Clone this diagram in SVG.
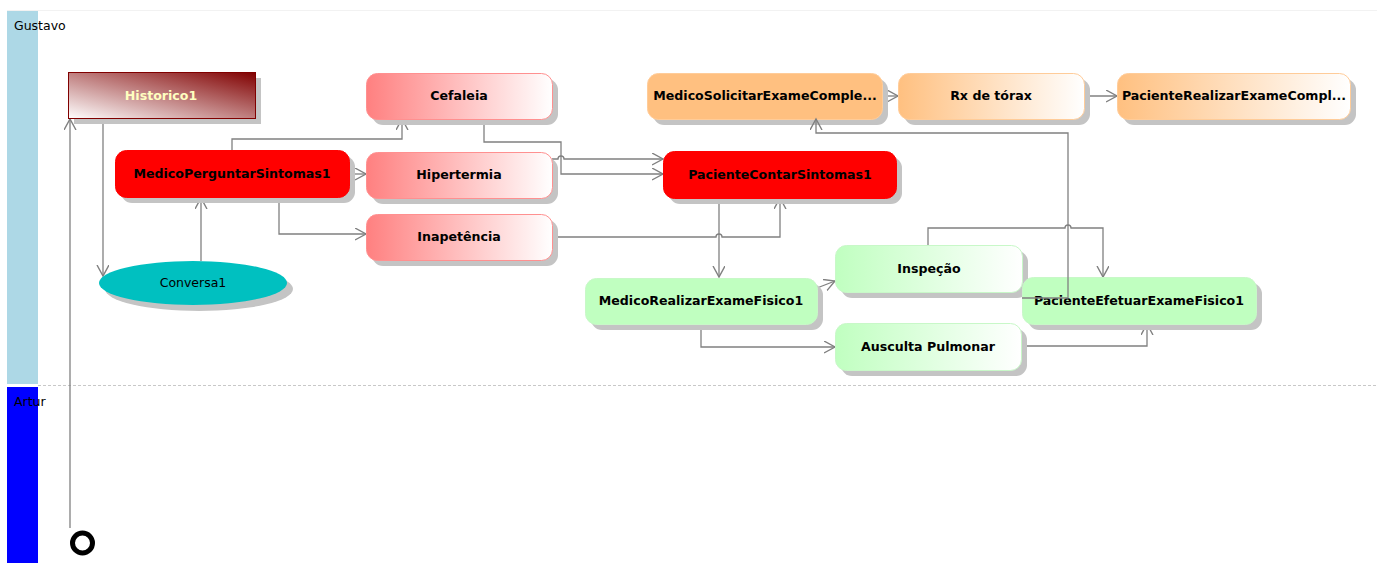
<svg xmlns="http://www.w3.org/2000/svg" width="1377" height="563" viewBox="0 0 1377 563">
<style>
.lbl{font-family:"DejaVu Sans","Liberation Sans",sans-serif;font-size:12.5px;fill:#000}
.t{font-family:"DejaVu Sans","Liberation Sans",sans-serif;font-size:12.6px;font-weight:bold;fill:#000;text-anchor:middle}
.tn{font-family:"DejaVu Sans","Liberation Sans",sans-serif;font-size:12.5px;fill:#000;text-anchor:middle}
.sh{fill:#c4c4c4}
.pink{fill:url(#gPink);stroke:#ff9090;stroke-width:1}
.red{fill:#ff0000;stroke:#ff0000;stroke-width:1}
.or{fill:url(#gOr);stroke:#ffcc99;stroke-width:1}
.ors{fill:#ffc080;stroke:#ffcc99;stroke-width:1}
.gr{fill:url(#gGr);stroke:#c8f8c8;stroke-width:1}
.grs{fill:#c0ffc0;stroke:#c8f8c8;stroke-width:1}
.c{fill:none;stroke:#808080;stroke-width:1.3;marker-end:url(#arr)}
</style>
<defs>
<linearGradient id="gPink" x1="0" y1="0" x2="1" y2="0"><stop offset="0" stop-color="#ff8080"/><stop offset="1" stop-color="#ffffff"/></linearGradient>
<linearGradient id="gOr" x1="0" y1="0" x2="1" y2="0"><stop offset="0" stop-color="#ffc080"/><stop offset="1" stop-color="#ffffff"/></linearGradient>
<linearGradient id="gGr" x1="0" y1="0" x2="1" y2="0"><stop offset="0" stop-color="#c0ffc0"/><stop offset="1" stop-color="#ffffff"/></linearGradient>
<linearGradient id="gHist" x1="0" y1="1" x2="1" y2="0"><stop offset="0" stop-color="#ffffff"/><stop offset="1" stop-color="#800000"/></linearGradient>
<marker id="arr" markerUnits="userSpaceOnUse" markerWidth="14" markerHeight="14" refX="11" refY="6" orient="auto">
<path d="M0,0 L11,6 L0,12" fill="none" stroke="#808080" stroke-width="1.4"/>
</marker>
</defs>
<rect x="0" y="0" width="1377" height="563" fill="#ffffff"/>
<g id="lanes">
<line x1="7" y1="10.5" x2="1377" y2="10.5" stroke="#f2f2f2" stroke-width="1"/>
<rect x="7" y="11" width="31" height="373" fill="#add8e6"/>
<rect x="7" y="387" width="31" height="176" fill="#0000ff"/>
<line x1="38" y1="385.5" x2="1377" y2="385.5" stroke="#c8c8c8" stroke-width="1" stroke-dasharray="3,2"/>
<text class="lbl" x="14" y="30">Gustavo</text>
<text class="lbl" x="14" y="406">Artur</text>
</g>
<g id="connectors">
<path class="c" d="M70,528 L70,119"/>
<path class="c" d="M103,118 L103,276"/>
<path class="c" d="M201,261 L201,198"/>
<path class="c" d="M232,150 L232,139 L402,139 L402,119"/>
<path class="c" d="M349,174 L366,174"/>
<path class="c" d="M279,197 L279,234 L366,234"/>
<path class="c" d="M484,118 L484,142 L561,142 L561,174 L663,174"/>
<path class="c" d="M552,159 L558,159 A3,3 0 0 1 564,159 L663,159"/>
<path class="c" d="M552,237 L716,237 A3,3 0 0 1 722,237 L780,237 L780,198"/>
<path class="c" d="M719,197 L719,277"/>
<path class="c" d="M882,96 L898,96"/>
<path class="c" d="M1084,96 L1117,96"/>
<path class="c" d="M817,288 L835,281"/>
<path class="c" d="M701,323 L701,347 L835,347"/>
<path class="c" d="M928,245 L928,228 L1065,228 A3,3 0 0 1 1071,228 L1103,228 L1103,277"/>
<path class="c" d="M1021,346 L1147,346 L1147,324"/>
</g>
<g id="final">
<circle cx="82.5" cy="543" r="10" fill="#ffffff" stroke="#000000" stroke-width="5"/>
</g>
<g id="Historico1">
<rect class="sh" x="74" y="78" width="187" height="46"/>
<rect x="68.5" y="72.5" width="187" height="46" fill="url(#gHist)" stroke="#800000" stroke-width="1"/>
<text class="t" x="161" y="100" style="fill:#ffffc0">Historico1</text>
</g>
<g id="Conversa1">
<ellipse class="sh" cx="199" cy="289" rx="94" ry="22"/>
<ellipse cx="193" cy="283" rx="94" ry="22" fill="#00c0c0"/>
<text class="tn" x="193" y="287">Conversa1</text>
</g>
<g id="MedicoPerguntarSintomas1">
<rect class="sh" x="121" y="156" width="234" height="47" rx="11"/>
<rect class="red" x="115.5" y="150.5" width="234" height="47" rx="11"/>
<text class="t" x="232" y="178">MedicoPerguntarSintomas1</text>
</g>
<g id="Cefaleia">
<rect class="sh" x="372" y="79" width="186" height="46" rx="11"/>
<rect class="pink" x="366.5" y="73.5" width="186" height="46" rx="11"/>
<text class="t" x="459" y="100">Cefaleia</text>
</g>
<g id="Hipertermia">
<rect class="sh" x="372" y="158" width="186" height="46" rx="11"/>
<rect class="pink" x="366.5" y="152.5" width="186" height="46" rx="11"/>
<text class="t" x="459" y="179">Hipertermia</text>
</g>
<g id="Inapetencia">
<rect class="sh" x="372" y="220" width="186" height="46" rx="11"/>
<rect class="pink" x="366.5" y="214.5" width="186" height="46" rx="11"/>
<text class="t" x="459" y="241">Inapetência</text>
</g>
<g id="PacienteContarSintomas1">
<rect class="sh" x="669" y="157" width="233" height="47" rx="11"/>
<rect class="red" x="663.5" y="151.5" width="233" height="47" rx="11"/>
<text class="t" x="780" y="179">PacienteContarSintomas1</text>
</g>
<g id="MedicoSolicitarExameComplementar">
<rect class="sh" x="653" y="79" width="235" height="46" rx="11"/>
<rect class="ors" x="647.5" y="73.5" width="235" height="46" rx="11"/>
<text class="t" x="765" y="100">MedicoSolicitarExameComple...</text>
</g>
<g id="RxTorax">
<rect class="sh" x="904" y="79" width="186" height="46" rx="11"/>
<rect class="or" x="898.5" y="73.5" width="186" height="46" rx="11"/>
<text class="t" x="991" y="100">Rx de tórax</text>
</g>
<g id="PacienteRealizarExameComplementar">
<rect class="sh" x="1123" y="79" width="233" height="46" rx="11"/>
<rect class="or" x="1117.5" y="73.5" width="233" height="46" rx="11"/>
<text class="t" x="1234" y="100">PacienteRealizarExameCompl...</text>
</g>
<g id="MedicoRealizarExameFisico1">
<rect class="sh" x="591" y="284" width="232" height="46" rx="11"/>
<rect class="grs" x="585.5" y="278.5" width="232" height="46" rx="11"/>
<text class="t" x="701" y="305">MedicoRealizarExameFisico1</text>
</g>
<g id="Inspecao">
<rect class="sh" x="841" y="251" width="187" height="47" rx="11"/>
<rect class="gr" x="835.5" y="245.5" width="187" height="47" rx="11"/>
<text class="t" x="929" y="273">Inspeção</text>
</g>
<g id="AuscultaPulmonar">
<rect class="sh" x="841" y="329" width="186" height="47" rx="11"/>
<rect class="gr" x="835.5" y="323.5" width="186" height="47" rx="11"/>
<text class="t" x="928" y="351">Ausculta Pulmonar</text>
</g>
<g id="PacienteEfetuarExameFisico1">
<rect class="sh" x="1028" y="283" width="234" height="47" rx="11"/>
<rect class="grs" x="1022.5" y="277.5" width="234" height="47" rx="11"/>
<text class="t" x="1139" y="305">PacienteEfetuarExameFisico1</text>
</g>
<g id="connectors-over">
<path class="c" d="M1022,298 L1068,298 L1068,133 L816,133 L816,119"/>
</g>
</svg>
